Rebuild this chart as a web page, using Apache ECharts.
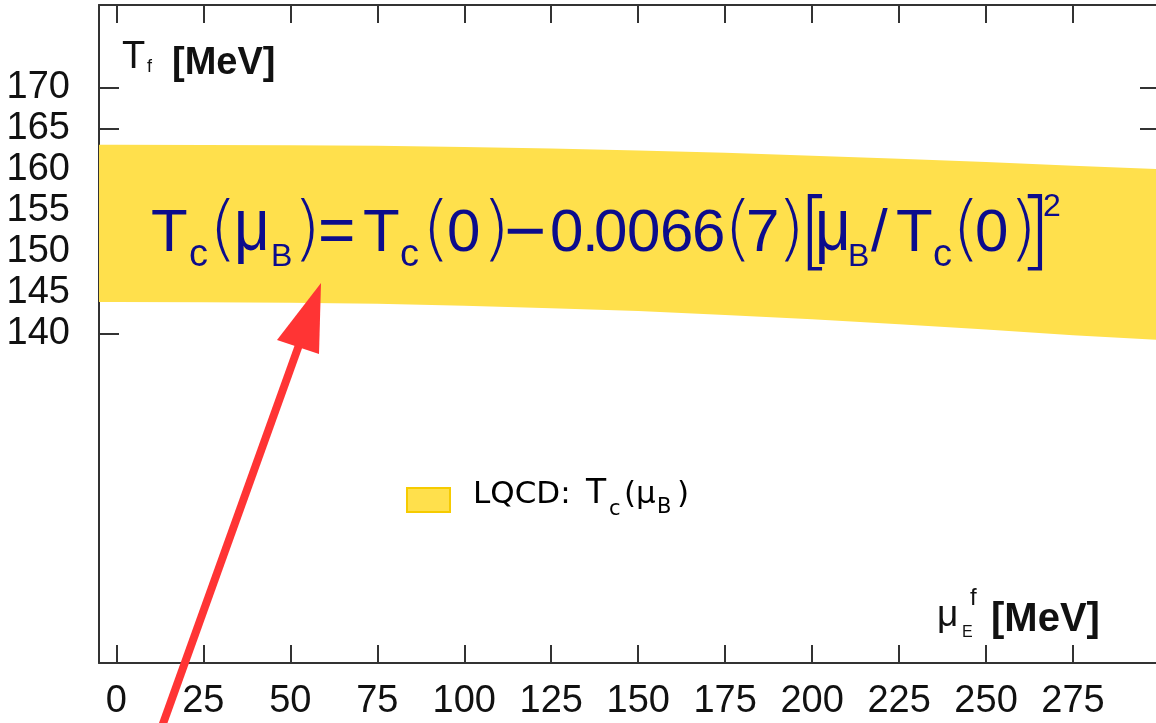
<!DOCTYPE html>
<html>
<head>
<meta charset="utf-8">
<script src="https://cdn.jsdelivr.net/npm/echarts@6/dist/echarts.min.js"></script>
<style>
  html, body { margin: 0; padding: 0; background: #ffffff; }
  #chart { width: 1156px; height: 723px; }
</style>
</head>
<body>
<div id="chart"></div>
<script>
// Lattice QCD crossover band T_c(mu_B): upper and lower edges [MeV]
const muB     = [-5, 0, 25, 50, 75, 100, 125, 150, 175, 200, 225, 250, 275, 300];
const tcUpper = [163.0, 163.0, 162.99, 162.96, 162.9, 162.75, 162.55, 162.3, 162.03, 161.67, 161.31, 160.92, 160.47, 160.05];
const tcLower = [143.9, 143.9, 143.87, 143.8, 143.68, 143.42, 143.13, 142.8, 142.3, 141.8, 141.2, 140.55, 139.85, 139.27];

// tick positions
const xTicks = [0, 25, 50, 75, 100, 125, 150, 175, 200, 225, 250, 275];
const yTicks = [140, 145, 150, 155, 160, 165, 170];

const SANS = "'Liberation Sans', Arial, Helvetica, sans-serif";
const DEJA = "'DejaVu Sans', sans-serif";
const NAVY = '#0c0c8c';
const AXIS = '#333333';
const BAND = '#FFE04C';

// one text run placed on a baseline (canvas 'middle' sits ~0.3465em above it);
// sy stretches the glyph vertically about that baseline
function tok(text, x, base, size, fill, weight, family, sy) {
  const s = sy || 1;
  const font = (weight || 'normal') + ' ' + size + 'px ' + (family || SANS);
  return {
    type: 'text', x: x, y: base - 0.3465 * size * s, scaleY: s, z: 100, silent: true,
    style: {
      text: text, fill: fill, font: font,
      align: 'left', verticalAlign: 'middle',
      textAlign: 'left', textVerticalAlign: 'middle'
    }
  };
}

// T_c(mu_B) = T_c(0) - 0.0066(7)[mu_B/T_c(0)]^2
// [text, x, baseline, size, weight, family, vertical stretch]
const formulaRuns = [
  ['T', 151, 255, 60], ['c', 189, 269, 38], ['(', 209, 258, 72, 200, DEJA],
  ['\u03bc', 234, 255, 62, null, null, 1.2],
  ['B', 271, 268, 32], [')', 293, 258, 72, 200, DEJA], ['=', 318, 257, 64],
  ['T', 363, 255, 60], ['c', 400, 269, 38], ['(', 422, 258, 72, 200, DEJA], ['0', 447, 255, 60],
  [')', 482, 258, 72, 200, DEJA], ['\u2212', 504, 260, 72],
  ['0', 550, 255, 60], ['.', 582, 255, 60], ['0', 594, 255, 60], ['0', 627, 255, 60],
  ['6', 660, 255, 60], ['6', 692, 255, 60],
  ['(', 724, 258, 72, 200, DEJA], ['7', 746, 255, 60], [')', 777, 258, 72, 200, DEJA],
  ['[', 798, 266, 86, 200, DEJA],
  ['\u03bc', 815, 255, 62, null, null, 1.2], ['B', 848, 268, 32], ['/', 871, 255, 60],
  ['T', 896, 255, 60], ['c', 933, 269, 38], ['(', 952, 258, 72, 200, DEJA], ['0', 975, 255, 60],
  [')', 1009, 258, 72, 200, DEJA], [']', 1018, 266, 86, 200, DEJA], ['2', 1043, 218, 32]
];
const formula = formulaRuns.map(function (p) {
  return tok(p[0], p[1], p[2], p[3], NAVY, p[4], p[5], p[6]);
});

// legend entry: LQCD: T_c(mu_B)
const legend = [
  {
    type: 'rect', z: 100, silent: true,
    shape: { x: 407, y: 488, width: 43, height: 24 },
    style: { fill: BAND, stroke: '#F6CB00', lineWidth: 2 }
  },
  tok('LQCD:', 473, 506, 31, '#000', 'normal', DEJA),
  tok('T', 586, 506, 33, '#000', 'normal', DEJA),
  tok('c', 609, 517, 21, '#000', 'normal', DEJA),
  tok('(', 624, 506, 31, '#000', 'normal', DEJA),
  tok('\u03bc', 636, 506, 31, '#000', 'normal', DEJA),
  tok('B', 657, 515, 21, '#000', 'normal', DEJA),
  tok(')', 677, 506, 31, '#000', 'normal', DEJA)
];

// axis titles
const titles = [
  tok('T', 122, 71, 38, '#111'),
  tok('f', 147, 73, 18, '#111'),
  tok('[MeV]', 172, 77, 38, '#111', 'bold'),
  tok('\u03bc', 937, 629, 37, '#111'),
  tok('E', 962, 638, 16, '#111'),
  tok('f', 970, 607, 24, '#111'),
  tok('[MeV]', 991, 634, 40, '#111', 'bold')
];

// red pointer towards the band
const arrow = [
  {
    type: 'line', z: 101, silent: true,
    shape: { x1: 160, y1: 732, x2: 299, y2: 345 },
    style: { stroke: '#FF3434', lineWidth: 8 }
  },
  {
    type: 'polygon', z: 101, silent: true,
    shape: { points: [[321, 283], [277, 340], [319, 354]] },
    style: { fill: '#FF3434' }
  }
];

function xAxisDef(pos, showLabels) {
  return {
    type: 'value', min: -5, max: 300, position: pos,
    axisLine: { show: true, onZero: false, lineStyle: { color: AXIS, width: 2 } },
    axisTick: { show: true, inside: true, length: 18, customValues: xTicks, lineStyle: { color: AXIS, width: 2 } },
    axisLabel: {
      show: showLabels, customValues: xTicks, margin: 20,
      fontSize: 38, lineHeight: 38, fontFamily: SANS, color: '#111'
    },
    splitLine: { show: false }
  };
}
function yAxisDef(pos, showLabels) {
  return {
    type: 'value', min: 100, max: 180, position: pos,
    axisLine: { show: true, onZero: false, lineStyle: { color: AXIS, width: 2 } },
    axisTick: { show: true, inside: true, length: 20, customValues: yTicks, lineStyle: { color: AXIS, width: 2 } },
    axisLabel: {
      show: showLabels, customValues: yTicks, margin: 29,
      fontSize: 38, lineHeight: 38, fontFamily: SANS, color: '#111'
    },
    splitLine: { show: false }
  };
}

// band polygon: upper edge left->right, lower edge right->left
function renderBand(params, api) {
  if (params.dataIndex !== 0) return null;
  const pts = [];
  for (let i = 0; i < muB.length; i++) pts.push(api.coord([muB[i], tcUpper[i]]));
  for (let i = muB.length - 1; i >= 0; i--) pts.push(api.coord([muB[i], tcLower[i]]));
  return { type: 'polygon', shape: { points: pts }, style: { fill: BAND } };
}

const chart = echarts.init(document.getElementById('chart'), null, { renderer: 'canvas' });
chart.setOption({
  animation: false,
  backgroundColor: '#ffffff',
  grid: { left: 99, top: 5, width: 1061, height: 658, containLabel: false, outerBoundsMode: 'none' },
  xAxis: [xAxisDef('bottom', true), xAxisDef('top', false)],
  yAxis: [yAxisDef('left', true), yAxisDef('right', false)],
  series: [
    {
      name: 'LQCD', type: 'custom', silent: true,
      xAxisIndex: 0, yAxisIndex: 0,
      data: muB.map(function (m, i) { return [m, tcLower[i], tcUpper[i]]; }),
      encode: { x: 0, y: [1, 2] },
      renderItem: renderBand
    }
  ],
  graphic: { elements: formula.concat(legend, titles, arrow) }
});
</script>
</body>
</html>
